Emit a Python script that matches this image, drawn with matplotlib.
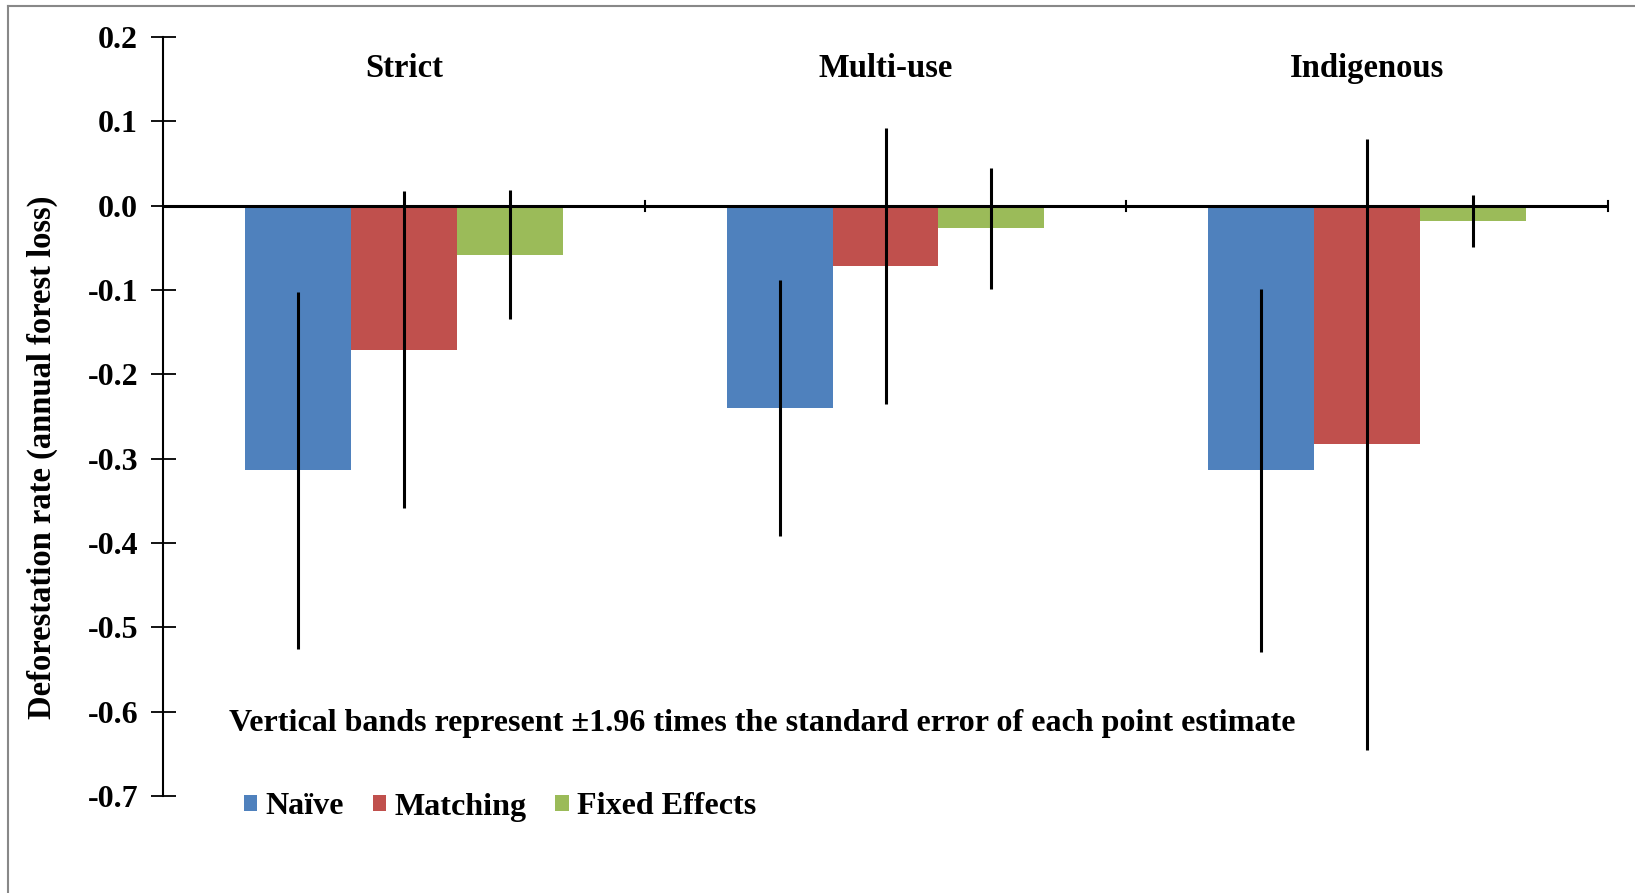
import matplotlib
matplotlib.use("Agg")
import matplotlib.pyplot as plt
from matplotlib.lines import Line2D
import numpy as np

categories = ["Strict", "Multi-use", "Indigenous"]
series = ["Naïve", "Matching", "Fixed Effects"]
naive = [-0.314, -0.240, -0.314]
matching = [-0.171, -0.0716, -0.283]
fixed = [-0.058, -0.027, -0.018]
naive_err = [0.212, 0.152, 0.215]
matching_err = [0.188, 0.164, 0.362]
fixed_err = [0.0765, 0.0716, 0.031]
colors = ["#4F81BD", "#C0504D", "#9BBB59"]
yticks = [0.2, 0.1, 0.0, -0.1, -0.2, -0.3, -0.4, -0.5, -0.6, -0.7]
note = "Vertical bands represent \u00b11.96 times the standard error of each point estimate"

plt.rcParams['font.family'] = ['Liberation Serif', 'DejaVu Serif']
plt.rcParams['font.weight'] = 'bold'

W, H = 1635, 893
fig = plt.figure(figsize=(W / 100, H / 100), dpi=100)
ax = fig.add_axes([163 / W, 1 - 796 / H, (1608 - 163) / W, (796 - 37) / H])

x = np.arange(len(categories))
bw = 0.22
vals = [naive, matching, fixed]
errs = [naive_err, matching_err, fixed_err]
for i, (v, e, c, lab) in enumerate(zip(vals, errs, colors, series)):
    xs = x + (i - 1) * bw
    ax.bar(xs, v, width=bw, color=c, label=lab, zorder=2)
    ax.errorbar(xs, v, yerr=e, fmt='none', ecolor='black', elinewidth=2.2,
                capsize=0, zorder=4)

ax.set_xlim(-0.5, 2.5)
ax.set_ylim(-0.7, 0.2)
ax.set_yticks(yticks)
ax.set_yticklabels([f"{t:.1f}" for t in yticks], fontsize=23, fontweight='bold')
ax.tick_params(axis='y', direction='inout', length=18, width=1.3, pad=9)
ax.set_xticks([])
for s in ['top', 'right', 'bottom']:
    ax.spines[s].set_visible(False)
ax.spines['left'].set_linewidth(1.5)

# zero line with category boundary ticks
ax.axhline(0, color='black', linewidth=2.2, zorder=3)
for b in [0.5, 1.5, 2.5]:
    ax.plot([b, b], [-0.03 * 0.2, 0.03 * 0.2], color='black', linewidth=1.5,
            zorder=3, clip_on=False)

for xi, cat in zip(x, categories):
    ax.text(xi, 0.163, cat, ha='center', va='center', fontsize=23.5, fontweight='bold')

ax.text(-0.363, -0.614, note, ha='left', va='center', fontsize=23.1, fontweight='bold')

ax.set_ylabel("Deforestation rate (annual forest loss)", fontsize=23.5,
              fontweight='bold')
ax.yaxis.set_label_coords(-(163 - 58) / (1608 - 163), (796 - 457) / (796 - 37))

leg = fig.legend(loc='center left', bbox_to_anchor=(244 / W, 1 - 807 / H),
                 ncol=3, frameon=False, fontsize=23.1, handlelength=0.42,
                 handleheight=0.42, handletextpad=0.25, columnspacing=0.9,
                 borderpad=0, borderaxespad=0)
for t in leg.get_texts():
    t.set_fontweight('bold')

# figure border (left and top visible)
fig.add_artist(Line2D([8 / W, 8 / W], [0, 1 - 6 / H], transform=fig.transFigure,
                      color='#888888', linewidth=1.5))
fig.add_artist(Line2D([8 / W, 1], [1 - 6 / H, 1 - 6 / H], transform=fig.transFigure,
                      color='#888888', linewidth=1.5))

fig.savefig("out.png", dpi=100)
